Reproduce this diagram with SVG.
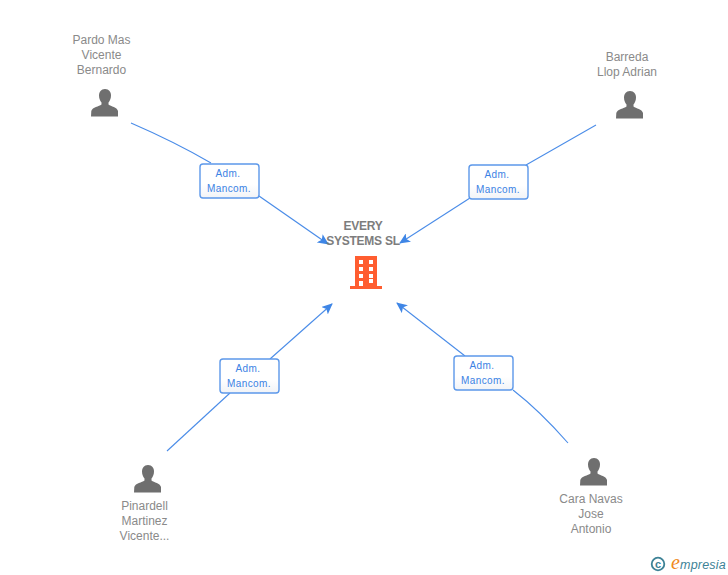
<svg xmlns="http://www.w3.org/2000/svg" width="728" height="575" viewBox="0 0 728 575">
<style>
text{font-family:"Liberation Sans",Arial,sans-serif;text-anchor:middle}
.n{font-size:12px;fill:#8a8a8a}
.c{font-size:12px;fill:#7d7d7d;font-weight:bold;letter-spacing:-.25px}
.l{font-size:10px;fill:#3b82e4;letter-spacing:.4px}
.e{fill:none;stroke:#4a8ce8;stroke-width:1.1}
.b{fill:url(#g);stroke:#5c98ea;stroke-width:1.4}
.p{fill:#6f6f6f}
</style>
<defs>
<linearGradient id="g" x1="0" y1="0" x2="0" y2="1"><stop offset="0" stop-color="#fff"/><stop offset=".6" stop-color="#fff"/><stop offset="1" stop-color="#f1f3f7"/></linearGradient>
<marker id="a" markerWidth="12" markerHeight="10" refX="10" refY="5" orient="auto" markerUnits="userSpaceOnUse"><path d="M0 0L11 5L0 10L2.500 5Z" fill="#3f86e6"/></marker>
<symbol id="u" viewBox="0 0 28 28" overflow="visible"><path d="M14 0C10 0 8 3 8 6.500C8 9.500 9.200 12 10.500 13.500L10.500 15.500C8 17.500 1.500 18 .3 22L0 27.500L27 27.500L27 22C26 18 20 17.500 17.500 15.500L17.500 13.500C18.800 12 20 9.500 20 6.500C20 3 18 0 14 0Z"/></symbol>
</defs>
<g id="connectors">
<path class="e" d="M131 123Q175 142 211 163"/>
<path class="e" d="M259 196L328 244" marker-end="url(#a)"/>
<path class="e" d="M596 125L526 165"/>
<path class="e" d="M470 198L400 243" marker-end="url(#a)"/>
<path class="e" d="M167 451L230 393"/>
<path class="e" d="M270 359L332 304" marker-end="url(#a)"/>
<path class="e" d="M568 443Q540 411 513 390"/>
<path class="e" d="M465 356L397 303" marker-end="url(#a)"/>
</g>
<g id="company">
<text class="c" x="363" y="230">EVERY</text>
<text class="c" x="363" y="245">SYSTEMS SL</text>
<path fill="#ff5d30" fill-rule="evenodd" d="M355 256H377V286H382V289H350V286H355ZM359 260V264H363V260ZM369 260V264H373V260ZM359 267V271H363V267ZM369 267V271H373V267ZM359 274V278H363V274ZM369 274V278H373V274ZM359 281V286H363V281ZM369 279V283H373V279Z"/>
</g>
<g id="person-pardo">
<text class="n" x="101.500" y="44">Pardo Mas</text><text class="n" x="101.500" y="59">Vicente</text><text class="n" x="101.500" y="74">Bernardo</text>
<use href="#u" class="p" x="91" y="89" width="28" height="28"/>
</g>
<g id="person-barreda">
<text class="n" x="627" y="61">Barreda</text><text class="n" x="627" y="76">Llop Adrian</text>
<use href="#u" class="p" x="616" y="91" width="28" height="28"/>
</g>
<g id="person-pinardell">
<text class="n" x="144.500" y="510">Pinardell</text><text class="n" x="144.500" y="525">Martinez</text><text class="n" x="144.500" y="540">Vicente...</text>
<use href="#u" class="p" x="134" y="465" width="28" height="28"/>
</g>
<g id="person-cara">
<text class="n" x="591" y="503">Cara Navas</text><text class="n" x="591" y="518">Jose</text><text class="n" x="591" y="533">Antonio</text>
<use href="#u" class="p" x="580" y="458" width="28" height="28"/>
</g>
<g id="label-1"><rect class="b" x="200" y="164" width="59" height="34" rx="3"/><text class="l" x="228" y="177">Adm.</text><text class="l" x="229" y="192">Mancom.</text></g>
<g id="label-2"><rect class="b" x="469" y="165" width="59" height="34" rx="3"/><text class="l" x="497" y="178">Adm.</text><text class="l" x="498" y="193">Mancom.</text></g>
<g id="label-3"><rect class="b" x="220" y="359" width="59" height="34" rx="3"/><text class="l" x="248" y="372">Adm.</text><text class="l" x="249" y="387">Mancom.</text></g>
<g id="label-4"><rect class="b" x="454" y="356" width="59" height="34" rx="3"/><text class="l" x="482" y="369">Adm.</text><text class="l" x="483" y="384">Mancom.</text></g>
<g id="brand">
<circle cx="658" cy="564" r="6.300" fill="none" stroke="#3d8296" stroke-width="1.800"/>
<text x="658" y="568" style="font-size:11px;font-weight:bold;fill:#3d8296">c</text>
<text x="671" y="568.500" style="text-anchor:start;font-size:12.500px;font-style:italic;fill:#3d8296;letter-spacing:.2px"><tspan style="font-family:'Liberation Serif',serif;font-size:20px;fill:#f08a1d">e</tspan>mpresia</text>
</g>
</svg>
